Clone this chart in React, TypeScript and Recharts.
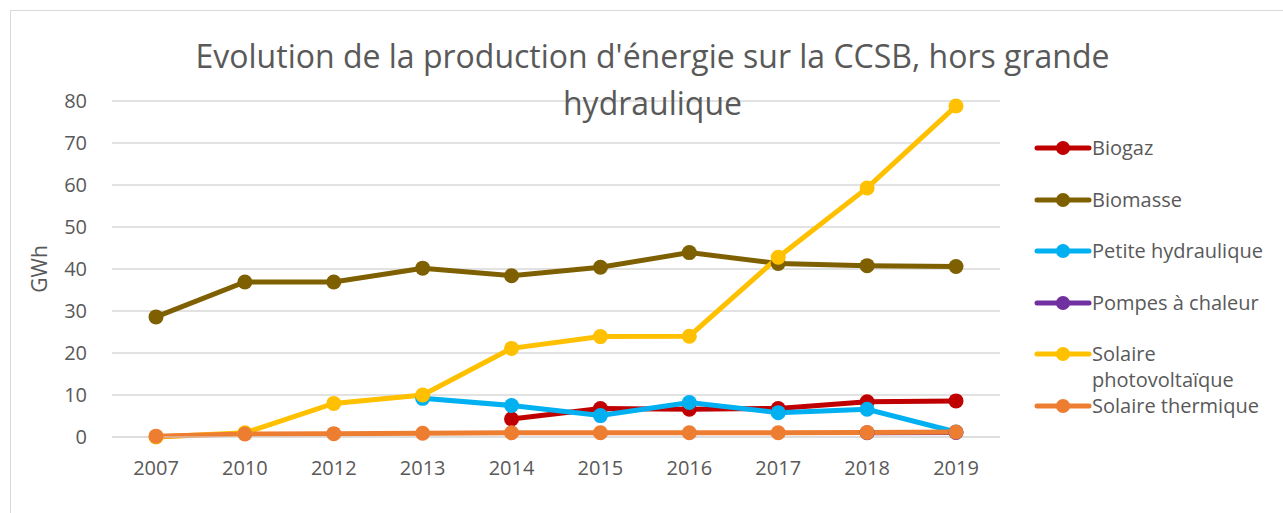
import { LineChart, Line, XAxis, YAxis, CartesianGrid, Legend } from 'recharts';

const years = ['2007', '2010', '2012', '2013', '2014', '2015', '2016', '2017', '2018', '2019'];

const biogaz = [null, null, null, null, 4.3, 6.8, 6.6, 6.8, 8.4, 8.6];
const biomasse = [28.6, 36.9, 36.9, 40.2, 38.4, 40.4, 43.9, 41.3, 40.8, 40.6];
const petiteHydraulique = [null, null, null, 9.2, 7.5, 5.1, 8.2, 5.8, 6.6, 1.2];
const pompesAChaleur = [null, null, null, null, null, null, null, null, 1.0, 1.1];
const solairePV = [0, 1.0, 8.0, 10.0, 21.1, 23.9, 24.0, 42.8, 59.3, 78.8];
const solaireThermique = [0.2, 0.7, 0.8, 0.9, 1.0, 1.0, 1.0, 1.0, 1.1, 1.2];

const yTicks = [0, 10, 20, 30, 40, 50, 60, 70, 80];

const series = [
  { key: 'biogaz', name: 'Biogaz', color: '#C00000', values: biogaz },
  { key: 'biomasse', name: 'Biomasse', color: '#7F6000', values: biomasse },
  { key: 'petite', name: 'Petite hydraulique', color: '#00B0F0', values: petiteHydraulique },
  { key: 'pompes', name: 'Pompes à chaleur', color: '#7030A0', values: pompesAChaleur },
  { key: 'pv', name: 'Solaire photovoltaïque', color: '#FFC000', values: solairePV },
  { key: 'thermique', name: 'Solaire thermique', color: '#ED7D31', values: solaireThermique },
];

const data = years.map((year, i) => {
  const row: any = { year };
  series.forEach((s) => {
    row[s.key] = s.values[i];
  });
  return row;
});

const FONT = '"Open Sans", sans-serif';
const TEXT = '#595959';

const LegendContent = () => (
  <div style={{ fontFamily: FONT, color: TEXT, fontSize: 20 }}>
    {series.map((s) => (
      <div key={s.key} style={{ display: 'flex', alignItems: 'flex-start', height: 51.5 }}>
        <svg width={58} height={26} style={{ flexShrink: 0 }}>
          <line x1={3} y1={13} x2={55} y2={13} stroke={s.color} strokeWidth={5} strokeLinecap="round" />
          <circle cx={29} cy={13} r={7} fill={s.color} />
        </svg>
        <span style={{ width: 186, lineHeight: '26px', whiteSpace: 'normal' }}>{s.name}</span>
      </div>
    ))}
  </div>
);

export default function App() {
  return (
    <div style={{ position: 'fixed', left: 0, top: 0, width: 1283, height: 513, background: '#fff', overflow: 'hidden' }}>
      <div
        style={{
          position: 'absolute',
          left: 10,
          top: 10,
          width: 1300,
          height: 540,
          border: '1px solid #D9D9D9',
        }}
      />
      <div
        style={{
          position: 'absolute',
          left: 0,
          width: 1305,
          top: 32,
          textAlign: 'center',
          fontFamily: FONT,
          fontSize: 32,
          color: TEXT,
          lineHeight: '47px',
          zIndex: 2,
          pointerEvents: 'none',
        }}
      >
        <div>Evolution de la production d'énergie sur la CCSB, hors grande</div>
        <div>hydraulique</div>
      </div>
      <div style={{ position: 'absolute', left: 0, top: 0 }}>
        <LineChart width={1283} height={513} data={data} margin={{ top: 101, right: 34, bottom: 46, left: 52 }}>
          <CartesianGrid vertical={false} stroke="#D9D9D9" strokeWidth={1.3} />
          <XAxis
            dataKey="year"
            padding={{ left: 44, right: 44 }}
            axisLine={{ stroke: '#D9D9D9' }}
            tickLine={false}
            tickMargin={18}
            height={30}
            tick={{ fill: TEXT, fontSize: 20, fontFamily: FONT }}
          />
          <YAxis
            domain={[0, 80]}
            ticks={yTicks}
            axisLine={false}
            tickLine={false}
            tickMargin={19}
            width={60}
            tick={{ fill: TEXT, fontSize: 20, fontFamily: FONT }}
            label={{
              value: 'GWh',
              angle: -90,
              position: 'insideLeft',
              offset: -12,
              style: { fill: TEXT, fontSize: 21, fontFamily: FONT, textAnchor: 'middle' },
            }}
          />
          <Legend
            layout="vertical"
            align="right"
            verticalAlign="top"
            content={<LegendContent />}
            wrapperStyle={{ left: 1034, top: 135, width: 249 }}
          />
          {series.map((s) => (
            <Line
              key={s.key}
              dataKey={s.key}
              name={s.name}
              stroke={s.color}
              strokeWidth={5}
              dot={{ r: 7.5, fill: s.color, stroke: s.color, strokeWidth: 0 }}
              activeDot={false}
              connectNulls={false}
              isAnimationActive={false}
            />
          ))}
        </LineChart>
      </div>
    </div>
  );
}
